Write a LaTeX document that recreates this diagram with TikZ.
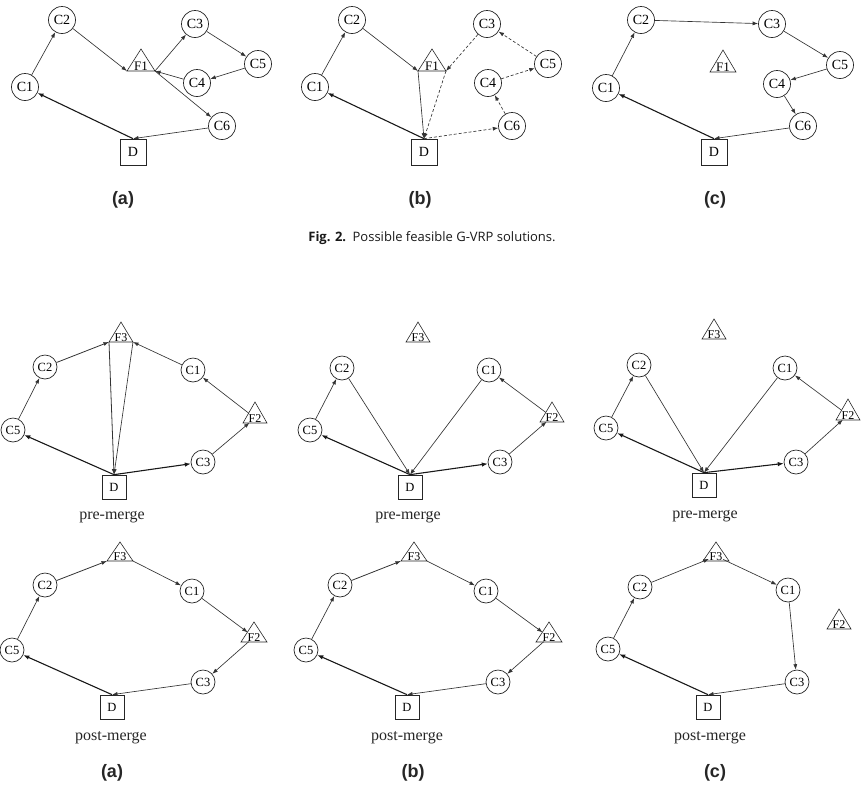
\documentclass[tikz,border=0pt]{standalone}
\usepackage{fontspec}
\setmainfont{Liberation Serif}
\newfontfamily\labfont{Liberation Sans}
\newfontfamily\capfont{Open Sans}
\usetikzlibrary{arrows.meta,calc}
\tikzset{
  cust/.style={circle,draw=black!85,line width=0.7pt,inner sep=0pt,minimum size=27pt,font=\fontsize{14}{14}\selectfont},
  custs/.style={cust,minimum size=24pt,font=\fontsize{12.5}{12.5}\selectfont},
  depot/.style={rectangle,draw=black!85,line width=0.7pt,inner sep=0pt,minimum size=26pt,font=\fontsize{14}{14}\selectfont},
  depots/.style={depot,minimum size=24pt,font=\fontsize{12.5}{12.5}\selectfont},
  trinode/.style={draw=black!85,line width=0.6pt,line join=miter},
  tritext/.style={inner sep=0.5pt},
  edgeln/.style={draw=black!80,line width=0.65pt,-{Latex[length=5.5pt,width=4pt]}},
  startln/.style={draw=black!90,line width=1.1pt,-{Latex[length=6pt,width=4.5pt]}},
  dashedge/.style={edgeln,dash pattern=on 3pt off 2pt},
  plab/.style={font=\labfont\bfseries\fontsize{18}{18}\selectfont,text=black!85},
  mlab/.style={font=\fontsize{16}{16}\selectfont,text=black!85},
  caplab/.style={font=\capfont\fontsize{13}{14}\selectfont,text=black!90},
}
% name, apex x, apex y, half width, height, label, font size
\newcommand{\fuelst}[7]{%
  \coordinate (#1l) at (#2-#4,#3+#5);
  \coordinate (#1r) at (#2+#4,#3+#5);
  \draw[trinode] (#2,#3) -- (#1l) -- (#1r) -- cycle;
  \node[tritext,font=\fontsize{#7}{#7}\selectfont,anchor=base] (#1) at (#2,#3+#5-1) {#6};
}
\begin{document}
\begin{tikzpicture}[x=1pt,y=-1pt]
\useasboundingbox (0,0) rectangle (863,796);
% ---------------- top (a)
\node[cust] (taC2) at (62,20) {C2};
\node[cust] (taC1) at (25,87) {C1};
\fuelst{taF1}{141}{49}{14}{22}{F1}{13}
\node[cust] (taC3) at (195,24) {C3};
\node[cust] (taC5) at (258,64) {C5};
\node[cust] (taC4) at (197,83) {C4};
\node[cust] (taC6) at (222,126) {C6};
\node[depot] (taD) at (133,152) {D};
\node[plab] (taL) at (123,200) {(a)};
\draw[edgeln] (taC1) -- (taC2);
\draw[edgeln] (taC2) -- (taF1l);
\draw[edgeln] (taF1r) -- (taC3);
\draw[edgeln] (taC3) -- (taC5);
\draw[edgeln] (taC5) -- (taC4);
\draw[edgeln] (taC4) -- (taF1r);
\draw[edgeln] (taF1r) -- (taC6);
\draw[edgeln] (taC6) -- (taD.north);
\draw[startln] (taD.north) -- (taC1);
% ---------------- top (b)
\node[cust] (tbC2) at (352,20) {C2};
\node[cust] (tbC1) at (315,87) {C1};
\fuelst{tbF1}{432}{49}{14}{22}{F1}{13}
\node[cust] (tbC3) at (487,24) {C3};
\node[cust] (tbC5) at (548,64) {C5};
\node[cust] (tbC4) at (488,83) {C4};
\node[cust] (tbC6) at (512,126) {C6};
\node[depot] (tbD) at (424,152) {D};
\node[plab] (tbL) at (420,200) {(b)};
\draw[edgeln] (tbC1) -- (tbC2);
\draw[edgeln] (tbC2) -- (tbF1l);
\draw[edgeln] (tbF1l) -- (tbD.north);
\draw[startln] (tbD.north) -- (tbC1);
\draw[dashedge] (tbC3) -- (tbF1r);
\draw[dashedge] (tbF1r) -- (tbD.north);
\draw[dashedge] (tbD.north) -- (tbC6);
\draw[dashedge] (tbC6) -- (tbC4);
\draw[dashedge] (tbC4) -- (tbC5);
\draw[dashedge] (tbC5) -- (tbC3);
% ---------------- top (c)
\node[cust] (tcC2) at (641,20) {C2};
\node[cust] (tcC1) at (606,88) {C1};
\fuelst{tcF1}{723}{50}{13}{22}{F1}{13}
\node[cust] (tcC3) at (772,24) {C3};
\node[cust] (tcC5) at (840,65) {C5};
\node[cust] (tcC4) at (777,84) {C4};
\node[cust] (tcC6) at (803,126) {C6};
\node[depot] (tcD) at (714,152) {D};
\node[plab] (tcL) at (715,200) {(c)};
\draw[edgeln] (tcC1) -- (tcC2);
\draw[edgeln] (tcC2) -- (tcC3);
\draw[edgeln] (tcC3) -- (tcC5);
\draw[edgeln] (tcC5) -- (tcC4);
\draw[edgeln] (tcC4) -- (tcC6);
\draw[edgeln] (tcC6) -- (tcD.north);
\draw[startln] (tcD.north) -- (tcC1);
% caption
\node[caplab] (cap) at (432,238) {\textbf{Fig. 2.}\hspace{0.5em}Possible feasible G-VRP solutions.};
% ---------------- pre-merge (a)
\fuelst{paF3}{121}{322}{12}{20}{F3}{12}
\node[custs] (paC2) at (45,367) {C2};
\node[custs] (paC1) at (193,370) {C1};
\node[custs] (paC5) at (13,430) {C5};
\fuelst{paF2}{255}{402}{12}{21}{F2}{12}
\node[custs] (paC3) at (203,462) {C3};
\node[depots] (paD) at (114,487) {D};
\node[mlab] (paM) at (112,517) {pre-merge};
\draw[startln] (paD.north) -- (paC5);
\draw[edgeln] (paC5) -- (paC2);
\draw[edgeln,line width=0.8pt] (paC2) -- (paF3l);
\draw[edgeln,line width=0.8pt] (paF3l) -- (paD.north);
\draw[edgeln] (paC1) -- (paF3r);
\draw[edgeln] (paF3r) -- (paD.north);
\draw[startln] (paD.north) -- (paC3);
\draw[edgeln] (paC3) -- (paF2);
\draw[edgeln] (paF2) -- (paC1);
% ---------------- pre-merge (b)
\fuelst{pbF3}{418}{322}{12}{20}{F3}{12}
\node[custs] (pbC2) at (342,368) {C2};
\node[custs] (pbC1) at (489,370) {C1};
\node[custs] (pbC5) at (310,430) {C5};
\fuelst{pbF2}{552}{402}{12}{20}{F2}{12}
\node[custs] (pbC3) at (500,462) {C3};
\node[depots] (pbD) at (410,487) {D};
\node[mlab] (pbM) at (408,517) {pre-merge};
\draw[startln] (pbD.north) -- (pbC5);
\draw[edgeln] (pbC5) -- (pbC2);
\draw[edgeln] (pbC2) -- (pbD.north);
\draw[edgeln] (pbC1) -- (pbD.north);
\draw[startln] (pbD.north) -- (pbC3);
\draw[edgeln] (pbC3) -- (pbF2);
\draw[edgeln] (pbF2) -- (pbC1);
% ---------------- pre-merge (c)
\fuelst{pcF3}{714}{319}{12}{20}{F3}{12}
\node[custs] (pcC2) at (639,365) {C2};
\node[custs] (pcC1) at (785,368) {C1};
\node[custs] (pcC5) at (606,428) {C5};
\fuelst{pcF2}{848}{399}{12}{21}{F2}{12}
\node[custs] (pcC3) at (796,462) {C3};
\node[depots] (pcD) at (704,485) {D};
\node[mlab] (pcM) at (705,516) {pre-merge};
\draw[startln] (pcD.north) -- (pcC5);
\draw[edgeln] (pcC5) -- (pcC2);
\draw[edgeln] (pcC2) -- (pcD.north);
\draw[edgeln] (pcC1) -- (pcD.north);
\draw[startln] (pcD.north) -- (pcC3);
\draw[edgeln] (pcC3) -- (pcF2);
\draw[edgeln] (pcF2) -- (pcC1);
% ---------------- post-merge (a)
\fuelst{qaF3}{120}{542}{13}{19}{F3}{12}
\node[custs] (qaC2) at (45,585) {C2};
\node[custs] (qaC1) at (192,591) {C1};
\fuelst{qaF2}{254}{622}{13}{20}{F2}{12}
\node[custs] (qaC5) at (12,650) {C5};
\node[custs] (qaC3) at (203,682) {C3};
\node[depots] (qaD) at (112,707) {D};
\node[mlab] (qaM) at (111,738) {post-merge};
\node[plab] (qaL) at (112,773) {(a)};
\draw[startln] (qaD.north) -- (qaC5);
\draw[edgeln] (qaC5) -- (qaC2);
\draw[edgeln,line width=0.8pt] (qaC2) -- (qaF3l);
\draw[edgeln] (qaF3r) -- (qaC1);
\draw[edgeln] (qaC1) -- (qaF2);
\draw[edgeln] (qaF2) -- (qaC3);
\draw[edgeln] (qaC3) -- (qaD.north);
% ---------------- post-merge (b)
\fuelst{qbF3}{414}{542}{13}{19}{F3}{12}
\node[custs] (qbC2) at (340,585) {C2};
\node[custs] (qbC1) at (486,591) {C1};
\fuelst{qbF2}{549}{622}{13}{20}{F2}{12}
\node[custs] (qbC5) at (306,650) {C5};
\node[custs] (qbC3) at (498,682) {C3};
\node[depots] (qbD) at (407,707) {D};
\node[mlab] (qbM) at (407,738) {post-merge};
\node[plab] (qbL) at (413,773) {(b)};
\draw[startln] (qbD.north) -- (qbC5);
\draw[edgeln] (qbC5) -- (qbC2);
\draw[edgeln,line width=0.8pt] (qbC2) -- (qbF3l);
\draw[edgeln] (qbF3r) -- (qbC1);
\draw[edgeln] (qbC1) -- (qbF2);
\draw[edgeln] (qbF2) -- (qbC3);
\draw[edgeln] (qbC3) -- (qbD.north);
% ---------------- post-merge (c)
\fuelst{qcF3}{716}{542}{13}{19}{F3}{12}
\node[custs] (qcC2) at (640,587) {C2};
\node[custs] (qcC1) at (788,590) {C1};
\fuelst{qcF2}{839}{609}{12}{20}{F2}{12}
\node[custs] (qcC5) at (608,649) {C5};
\node[custs] (qcC3) at (797,682) {C3};
\node[depots] (qcD) at (708,707) {D};
\node[mlab] (qcM) at (710,738) {post-merge};
\node[plab] (qcL) at (715,773) {(c)};
\draw[startln] (qcD.north) -- (qcC5);
\draw[edgeln] (qcC5) -- (qcC2);
\draw[edgeln] (qcC2) -- (qcF3);
\draw[edgeln] (qcF3) -- (qcC1);
\draw[edgeln] (qcC1) -- (qcC3);
\draw[edgeln] (qcC3) -- (qcD.north);
\end{tikzpicture}
\end{document}
